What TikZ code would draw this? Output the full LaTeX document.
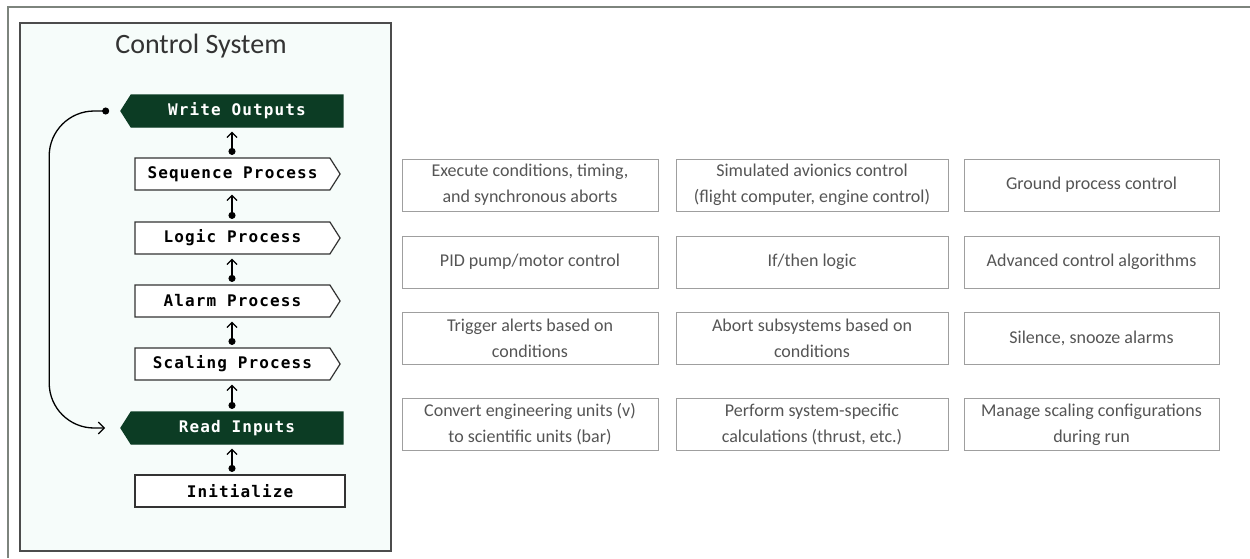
\documentclass[tikz,border=0pt]{standalone}
\usepackage{fontspec}
\setmainfont{Carlito}
\newfontfamily\stagefont[LetterSpace=7]{DejaVu Sans Mono}
\usetikzlibrary{shapes.symbols,arrows.meta,positioning}
\definecolor{GreenDark}{RGB}{12,60,36}
\definecolor{PanelFill}{RGB}{246,252,250}
\definecolor{FrameGray}{RGB}{125,132,125}
\definecolor{TextGray}{RGB}{85,85,85}

\begin{document}
\begin{tikzpicture}[
  x=1pt, y=-1pt,
  stage/.style={
    draw=black!80, fill=white, line width=1.2pt, inner sep=0pt,
    minimum height=32pt, font=\stagefont\bfseries\fontsize{16}{18}\selectfont
  },
  procbox/.style={
    stage, signal, signal to=east, signal pointer angle=115, minimum width=205pt
  },
  iobox/.style={
    stage, signal, signal to=west, signal pointer angle=115, minimum width=222pt,
    fill=GreenDark, draw=GreenDark, text=white
  },
  initbox/.style={stage, rectangle, minimum width=210pt},
  task/.style={
    rectangle, draw=gray!75, fill=white, line width=0.9pt,
    minimum width=256pt, minimum height=52pt, align=center,
    text=TextGray, font=\fontsize{18}{26}\selectfont
  },
  panel/.style={
    rectangle, draw=black!70, fill=PanelFill, line width=1.4pt,
    minimum width=371pt, minimum height=528pt
  },
  link/.style={
    {Circle[length=7pt]}-{Straight Barb[length=5pt,width=10pt]}, line width=1.3pt,
    shorten <=2.5pt, shorten >=4pt
  },
  loop/.style={
    {Circle[length=7pt]}-{Straight Barb[length=6pt,width=12pt]}, line width=1.3pt,
    rounded corners=45pt, shorten <=11pt, shorten >=15pt
  }
]
\useasboundingbox (0,0) rectangle (1250,558);

% --- Outer frame (only top and left edges show)
\draw[FrameGray, line width=2pt] (1250,6.5) -- (8,6.5) -- (8,558);

% --- Control system panel
\node[panel] (panel) at (205.5,287) {};
\node[font=\fontsize{28}{32}\selectfont, text=black!80] (title) at (201,46) {Control System};

% --- Stages (bottom to top)
\coordinate (spine) at (232,0);
\node[initbox] (init)    at (240,491)   {Initialize};
\node[iobox]   (read)    at (237,428)   {Read Inputs};
\node[procbox] (scaling) at (232.5,364) {Scaling Process};
\node[procbox] (alarm)   at (232.5,301) {Alarm Process};
\node[procbox] (logic)   at (232.5,238) {Logic Process};
\node[procbox] (seq)     at (232.5,174) {Sequence Process};
\node[iobox]   (write)   at (237,111)   {Write Outputs};

% --- Stage links
\draw[link] (spine |- init.north)    -- (spine |- read.south);
\draw[link] (spine |- read.north)    -- (spine |- scaling.south);
\draw[link] (spine |- scaling.north) -- (spine |- alarm.south);
\draw[link] (spine |- alarm.north)   -- (spine |- logic.south);
\draw[link] (spine |- logic.north)   -- (spine |- seq.south);
\draw[link] (spine |- seq.north)     -- (spine |- write.south);
\draw[loop] (write.west) -| ([xshift=-71pt]read.west) -- (read.west);

% --- Task boxes (right grid)
\node[task] (exec)     at (530,185)    {Execute conditions, timing,\\and synchronous aborts};
\node[task, minimum width=272pt] (avionics) at (812,185) {Simulated avionics control\\(flight computer, engine control)};
\node[task, minimum width=255pt] (ground)   at (1091.5,185) {Ground process control};

\node[task] (pid)      at (530,262)    {PID pump/motor control};
\node[task, minimum width=272pt] (ifthen)   at (812,262) {If/then logic};
\node[task, minimum width=255pt] (advanced) at (1091.5,262) {Advanced control algorithms};

\node[task] (trigger)  at (530,338)    {Trigger alerts based on\\conditions};
\node[task, minimum width=272pt] (abortsub) at (812,338) {Abort subsystems based on\\conditions};
\node[task, minimum width=255pt] (silence)  at (1091.5,338) {Silence, snooze alarms};

\node[task] (convert)  at (530,424.5)  {Convert engineering units (v)\\to scientific units (bar)};
\node[task, minimum width=272pt] (perform)  at (812,424.5) {Perform system-specific\\calculations (thrust, etc.)};
\node[task, minimum width=255pt] (manage)   at (1091.5,424.5) {Manage scaling configurations\\during run};

\end{tikzpicture}
\end{document}
